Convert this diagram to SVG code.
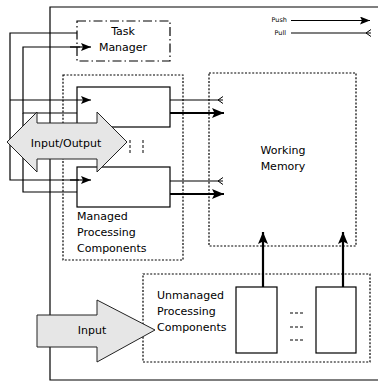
<svg xmlns="http://www.w3.org/2000/svg" width="378" height="384" viewBox="0 0 378 384">
  <style>
    .ln { fill: none; stroke: #000; stroke-width: 1.2; }
    .thick { fill: none; stroke: #000; stroke-width: 2.2; }
    .box { fill: #fff; stroke: #000; stroke-width: 1.2; }
    .dotbox { fill: none; stroke: #000; stroke-width: 1.2; stroke-dasharray: 2 1.6; }
    .dashdot { fill: #fff; stroke: #000; stroke-width: 1.2; stroke-dasharray: 9 3 1.5 3; }
    .fat { fill: #e6e6e6; stroke: #222; stroke-width: 1; }
    .etc { fill: none; stroke: #000; stroke-width: 1; stroke-dasharray: 3 2; }
    text { font-family: "DejaVu Sans", "Liberation Sans", sans-serif; font-size: 11px; fill: #000; }
    .legend { font-size: 6.5px; }
  </style>
  <defs>
    <marker id="push" markerUnits="userSpaceOnUse" markerWidth="12" markerHeight="10" refX="10" refY="4" orient="auto">
      <path d="M0,0 L10,4 L0,8 L2,4 Z" fill="#000"/>
    </marker>
    <marker id="pushBig" markerUnits="userSpaceOnUse" markerWidth="14" markerHeight="12" refX="12" refY="5" orient="auto">
      <path d="M0,0 L12,5 L0,10 L2.5,5 Z" fill="#000"/>
    </marker>
    <marker id="pull" markerUnits="userSpaceOnUse" markerWidth="8" markerHeight="9" refX="6" refY="4" orient="auto">
      <path d="M6,0.5 L1,4 L6,7.5" fill="none" stroke="#000" stroke-width="1"/>
    </marker>
  </defs>

  <!-- outer frame of the system -->
  <g id="frame">
    <path class="ln" d="M378,7 H50 V380 H378"/>
  </g>

  <!-- legend -->
  <g id="legend">
    <text class="legend" x="287" y="22" text-anchor="end">Push</text>
    <text class="legend" x="286" y="35" text-anchor="end">Pull</text>
    <line class="ln" x1="291" y1="20.5" x2="370" y2="20.5" marker-end="url(#push)"/>
    <line class="ln" x1="291" y1="33" x2="371" y2="33" marker-end="url(#pull)"/>
  </g>

  <!-- managed components group outline -->
  <g id="managed">
    <rect class="dotbox" x="63" y="75" width="120" height="185"/>
    <text x="77" y="220">Managed</text>
    <text x="77" y="236">Processing</text>
    <text x="77" y="252">Components</text>
  </g>

  <!-- connectors -->
  <g id="connectors">
    <!-- control lines from the task manager to the managed components -->
    <path class="ln" d="M77,33 H10 V180 H79" />
    <line class="ln" x1="10" y1="100" x2="91" y2="100" marker-end="url(#push)"/>
    <line class="ln" x1="70" y1="180" x2="91" y2="180" marker-end="url(#push)"/>
    <!-- feedback lines from the managed components to the task manager -->
    <path class="ln" d="M77,113 H23 V47 H80"/>
    <line class="ln" x1="70" y1="47" x2="91" y2="47" marker-end="url(#push)"/>
    <path class="ln" d="M23,113 V192 H77"/>
    <!-- managed components to working memory -->
    <line class="ln" x1="170" y1="100" x2="223" y2="100" marker-end="url(#pull)"/>
    <line class="thick" x1="170" y1="113" x2="224" y2="113" marker-end="url(#pushBig)"/>
    <line class="ln" x1="170" y1="181" x2="223" y2="181" marker-end="url(#pull)"/>
    <line class="thick" x1="170" y1="194" x2="224" y2="194" marker-end="url(#pushBig)"/>
    <!-- unmanaged components to working memory -->
    <line class="thick" x1="263" y1="287" x2="263" y2="232" marker-end="url(#pushBig)"/>
    <line class="thick" x1="343" y1="287" x2="343" y2="232" marker-end="url(#pushBig)"/>
  </g>

  <g id="task-manager">
    <rect class="dashdot" x="77" y="21" width="93" height="40" fill-opacity="0"/>
    <text x="123" y="35" text-anchor="middle">Task</text>
    <text x="123" y="51" text-anchor="middle">Manager</text>
  </g>

  <g id="managed-component-1">
    <rect class="box" x="77" y="87" width="93" height="40" fill="none" style="fill:none"/>
  </g>
  <g id="managed-component-2">
    <rect class="box" x="77" y="167" width="93" height="40" style="fill:none"/>
  </g>

  <g id="working-memory">
    <rect class="dotbox" x="209" y="73" width="147" height="173"/>
    <text x="283" y="154" text-anchor="middle">Working</text>
    <text x="283" y="170" text-anchor="middle">Memory</text>
  </g>

  <g id="unmanaged">
    <rect class="dotbox" x="143" y="274" width="227" height="88"/>
    <text x="157" y="299">Unmanaged</text>
    <text x="157" y="315">Processing</text>
    <text x="157" y="331">Components</text>
  </g>
  <g id="unmanaged-component-1">
    <rect class="box" x="236" y="287" width="41" height="66"/>
  </g>
  <g id="unmanaged-component-2">
    <rect class="box" x="316" y="287" width="40" height="66"/>
  </g>
  <g id="unmanaged-more">
    <line class="etc" x1="290" y1="313" x2="304" y2="313"/>
    <line class="etc" x1="290" y1="327" x2="304" y2="327"/>
    <line class="etc" x1="290" y1="340" x2="304" y2="340"/>
  </g>

  <g id="managed-more">
    <line class="etc" x1="130" y1="140" x2="130" y2="154"/>
    <line class="etc" x1="143" y1="140" x2="143" y2="154"/>
  </g>

  <!-- input / output double arrow -->
  <g id="input-output">
    <path class="fat" d="M7,142 L37,112 V123 H97 V112 L127,142 L97,172 V159 H37 V172 Z"/>
    <text x="66" y="147" text-anchor="middle">Input/Output</text>
  </g>

  <!-- input arrow -->
  <g id="input">
    <path class="fat" d="M37,315 H97 V300 L155,330 L97,362 V347 H37 Z"/>
    <text x="92" y="334" text-anchor="middle">Input</text>
  </g>
</svg>
